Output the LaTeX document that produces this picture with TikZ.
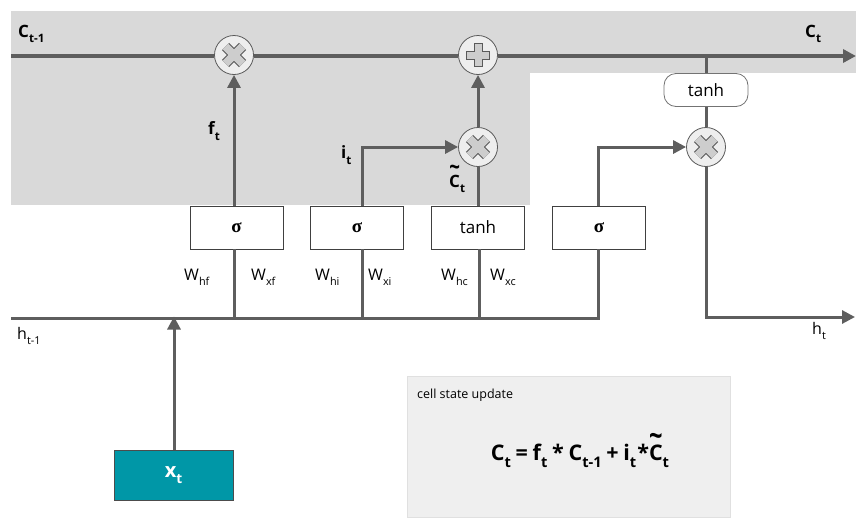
\documentclass[tikz,border=0pt]{standalone}
\usepackage{fontspec}
\usepackage{graphicx}
\setmainfont{Open Sans}
\newfontfamily\sigfont{Liberation Serif}
\usetikzlibrary{arrows.meta}
\definecolor{bggray}{HTML}{D9D9D9}
\definecolor{ln}{HTML}{5E5E5E}
\definecolor{tealbox}{HTML}{0097A7}
\definecolor{opfill}{HTML}{EEEEEE}
\definecolor{xfill}{HTML}{CDCDCD}
\definecolor{xline}{HTML}{5A5A5A}
\definecolor{notefill}{HTML}{EFEFEF}
\newcommand\lo[1]{\raisebox{-0.6ex}{\scalebox{0.68}{#1}}}
\newcommand\ctil{\ooalign{C\cr\hidewidth\raisebox{0.68em}{\scalebox{1.1}[1.4]{\textasciitilde}}\hidewidth\cr}}
\tikzset{
  wire/.style={draw=ln, line width=3pt},
  cwire/.style={draw=ln, line width=4pt},
  tip/.style={-{Triangle[length=13pt,width=13pt]}},
  optn/.style={circle, draw=xline, line width=0.8pt, fill=opfill, minimum size=39pt, inner sep=0pt},
  gatebox/.style={draw=black!75, line width=0.8pt, fill=white, minimum width=93pt, minimum height=43pt, inner sep=0pt},
  sig/.style={font=\fontsize{19}{21}\sigfont\bfseries},
  lbl/.style={inner sep=0pt, font=\fontsize{17}{19}\selectfont\bfseries},
  wlbl/.style={inner sep=0pt, font=\fontsize{16}{18}\selectfont},
}
\newcommand\mulsym[1]{%
  \draw[line width=10pt, xline] ([shift={(-8.5,-8.5)}]#1.center) -- ([shift={(8.5,8.5)}]#1.center)
                                 ([shift={(-8.5,8.5)}]#1.center) -- ([shift={(8.5,-8.5)}]#1.center);
  \draw[line width=8pt, xfill] ([shift={(-8.5,-8.5)}]#1.center) -- ([shift={(8.5,8.5)}]#1.center)
                                 ([shift={(-8.5,8.5)}]#1.center) -- ([shift={(8.5,-8.5)}]#1.center);}
\newcommand\addsym[1]{%
  \draw[line width=9pt, xline] ([shift={(-12,0)}]#1.center) -- ([shift={(12,0)}]#1.center)
                                 ([shift={(0,-12)}]#1.center) -- ([shift={(0,12)}]#1.center);
  \draw[line width=7pt, xfill] ([shift={(-11,0)}]#1.center) -- ([shift={(11,0)}]#1.center)
                                 ([shift={(0,-11)}]#1.center) -- ([shift={(0,11)}]#1.center);}
\begin{document}
\begin{tikzpicture}[x=1pt,y=-1pt]
\useasboundingbox (0,0) rectangle (856,517);
% background shading
\fill[bggray] (11,11) rectangle (530,205);
\fill[bggray] (530,11) rectangle (856,73);
% note box
\node[draw=black!12, fill=notefill, minimum width=323pt, minimum height=141pt, inner sep=0pt, anchor=north west] (note) at (407,376) {};
\node[anchor=west, inner sep=0pt, font=\fontsize{12.5}{14}\selectfont] (notet) at (417,395) {cell state update};
\node[inner sep=0pt, font=\fontsize{21.5}{25}\selectfont\bfseries] (eq) at (580,456)
  {\spaceskip=0.22em C\lo{t} = f\lo{t} * C\lo{t-1} + i\lo{t}\kern1pt*\ctil\lo{t}};
% coordinates
\coordinate (cstart) at (11,56);
\coordinate (cend) at (856,56);
\coordinate (ctap) at (706,56);
\coordinate (hstart) at (11,318);
\coordinate (h1) at (234,318);
\coordinate (h2) at (362,318);
\coordinate (h3) at (479,318);
\coordinate (hx) at (174,318);
\coordinate (hend) at (598,318);
\coordinate (hocorner) at (706,317);
\coordinate (hout) at (855,317);
% operators
\node[optn] (m1) at (234,55) {};
\node[optn] (p1) at (478,55) {};
\node[optn] (m2) at (478,147) {};
\node[optn] (m3) at (706,147) {};
\node[draw=black!55, line width=0.8pt, fill=white, rounded corners=12pt, minimum width=84pt, minimum height=33pt, inner sep=0pt,
      font=\fontsize{17}{19}\selectfont] (th) at (706,90) {tanh};
% gate boxes
\node[gatebox, sig] (s1) at (236.5,227.5) {σ};
\node[gatebox, sig] (s2) at (357,227.5) {σ};
\node[gatebox, font=\fontsize{17}{19}\selectfont] (s3) at (478,227.5) {tanh};
\node[gatebox, sig] (s4) at (599,227.5) {σ};
% input
\node[draw=black!70, line width=0.8pt, fill=tealbox, minimum width=119pt, minimum height=50pt, inner sep=0pt,
      text=white, font=\fontsize{20}{22}\selectfont\bfseries] (xt) at (173.5,475) {x\lo{t}};
% wires
\draw[cwire] (cstart) -- (m1.west |- cstart);
\draw[cwire] (m1.east |- cstart) -- (p1.west |- cstart);
\draw[cwire, tip] (p1.east |- cstart) -- (cend);
\draw[wire, tip] (s1.north -| m1) -- (m1.south);
\draw[wire, tip] (s2.north -| h2) |- (m2.west);
\draw[wire] (s3.north -| m2) -- (m2.south);
\draw[wire, tip] (m2.north) -- (p1.south);
\draw[wire, tip] (s4.north -| hend) |- (m3.west);
\draw[wire] (ctap) -- (th.north);
\draw[wire] (th.south) -- (m3.north);
\draw[wire, tip] (m3.south) -- (hocorner) -- (hout);
\draw[wire] (hstart) -- (hend) -- (s4.south -| hend);
\draw[wire] (h1) -- (s1.south -| h1);
\draw[wire] (h2) -- (s2.south -| h2);
\draw[wire] (h3) -- (s3.south -| h3);
\draw[wire, tip] (xt.north -| hx) -- ([yshift=1.5pt]hx);
% operator symbols
\mulsym{m1}
\mulsym{m2}
\mulsym{m3}
\addsym{p1}
% labels
\node[lbl, anchor=west] (lc1) at (18,34) {C\lo{t-1}};
\node[lbl, anchor=west] (lc2) at (805,34) {C\lo{t}};
\node[lbl, anchor=west] (lf) at (208,131) {f\lo{t}};
\node[lbl, anchor=west] (li) at (341,155) {i\lo{t}};
\node[lbl, anchor=west] (lct) at (449,184) {\ctil\lo{t}};
\node[wlbl, anchor=west] (wl1) at (184,277) {W\lo{hf}};
\node[wlbl, anchor=west] (wl2) at (251,277) {W\lo{xf}};
\node[wlbl, anchor=west] (wl3) at (315,277) {W\lo{hi}};
\node[wlbl, anchor=west] (wl4) at (368,277) {W\lo{xi}};
\node[wlbl, anchor=west] (wl5) at (441,277) {W\lo{hc}};
\node[wlbl, anchor=west] (wl6) at (490,277) {W\lo{xc}};
\node[wlbl, anchor=west] (lh1) at (17,336) {h\lo{t-1}};
\node[wlbl, anchor=west] (lh2) at (812,331) {h\lo{t}};
\end{tikzpicture}
\end{document}
